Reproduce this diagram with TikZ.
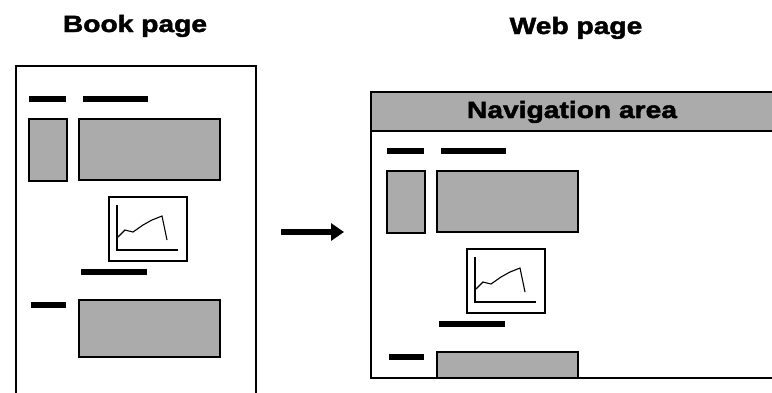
\documentclass[tikz,border=0pt]{standalone}
\usepackage{fontspec}
\setmainfont{Liberation Sans}
\newfontfamily\headfont[FakeStretch=1.2,FakeBold=2]{Liberation Sans}
\usetikzlibrary{arrows.meta}

\begin{document}
\begin{tikzpicture}[x=1pt,y=-1pt,
    every node/.style={font=\headfont\bfseries\fontsize{23.5}{24}\selectfont,inner sep=0pt,anchor=base},
    bar/.style={line width=6pt},
    block/.style={draw,line width=1.6pt,fill=black!33},
    frame/.style={line width=1.9pt}]
    \useasboundingbox (0,0) rectangle (772,392);
    \clip (0,0) rectangle (772,392);
    % titles
    \node (booktitle) at (135,32) {Book page};
    \node (webtitle) at (576,34) {Web page};
    % page contents, same layout on both pages
    \foreach \dx/\dy/\cut in {0/0/400,358/52/326}{
      \begin{scope}[shift={(\dx,\dy)}]
        \clip (0,60) rectangle (400,\cut);
        \draw[bar] (29,99) -- (66,99);
        \draw[bar] (83,99) -- (148,99);
        \draw[block] (29,119) rectangle (67,181);
        \draw[block] (79,119) rectangle (220,180);
        \draw[line width=1.6pt] (109,197) rectangle (187,261);
        \draw[line width=1.4pt] (117,205) -- (117,250) -- (178,250);
        \draw[line width=1.1pt] (118,237) -- (125,230) -- (133,232) -- (143,225)
            -- (152,220) -- (162,216) -- (167,240);
        \draw[bar] (81,272) -- (147,272);
        \draw[bar] (31,305) -- (66,305);
        \draw[block] (79,300) rectangle (220,357);
      \end{scope}
    }
    % book page
    \draw[frame] (16,400) -- (16,66) -- (256,66) -- (256,400);
    % web page
    \draw[frame,fill=black!33] (371,92) rectangle (790,131);
    \draw[frame] (371,131) rectangle (790,378);
    \node (nav) at (572,118) {Navigation area};
    % arrow
    \coordinate (from) at (281,232);
    \coordinate (to) at (344,232);
    \draw[line width=5.5pt,-{Triangle[length=13pt,width=17pt]}] (from) -- (to);
\end{tikzpicture}
\end{document}
